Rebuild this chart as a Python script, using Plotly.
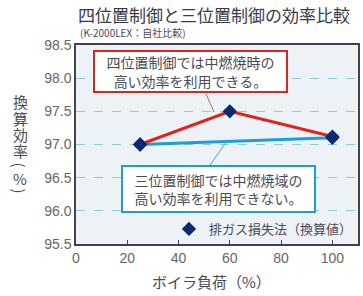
import plotly.graph_objects as go

# data
load_pct = [25, 60, 100]
eff_four = [97.0, 97.5, 97.12]
eff_three_x = [25, 100]
eff_three = [97.0, 97.1]
legend_name = "排ガス損失法（換算値）"
x_ticks = [0, 20, 40, 60, 80, 100]
y_ticks = [95.5, 96.0, 96.5, 97.0, 97.5, 98.0, 98.5]

W, H = 363, 296
L, R, T, B = 76, 3, 45, 52
PW, PH = W - L - R, H - T - B

def px(x):
    return (x - L) / PW

def py(y):
    return (H - B - y) / PH

JP = "Noto Sans CJK JP"
NUM = "Liberation Sans"
TXT = "#4a4a58"

fig = go.Figure()
fig.add_trace(go.Scatter(x=eff_three_x, y=eff_three, mode="lines",
                         line=dict(color="#1a9fd6", width=3), showlegend=False))
fig.add_trace(go.Scatter(x=load_pct, y=eff_four, mode="lines",
                         line=dict(color="#e3211b", width=3), showlegend=False))
fig.add_trace(go.Scatter(x=load_pct, y=eff_four, mode="markers",
                         marker=dict(symbol="diamond", size=11, color="#0b2a72"),
                         name=legend_name, showlegend=True))
fig.add_trace(go.Scatter(x=eff_three_x, y=eff_three, mode="markers",
                         marker=dict(symbol="diamond", size=11, color="#0b2a72"),
                         showlegend=False))

ann = []
ann.append(dict(text="四位置制御と三位置制御の効率比較", xref="paper", yref="paper",
                x=px(76), y=py(14), xanchor="left", yanchor="middle", showarrow=False,
                font=dict(family=JP, size=17, color="#3a3a48")))
ann.append(dict(text="(K-2000LEX：自社比較)", xref="paper", yref="paper",
                x=px(78), y=py(33), xanchor="left", yanchor="middle", showarrow=False,
                font=dict(family=JP, size=10, color=TXT)))
chars = [("換", 101, 0), ("算", 118, 0), ("効", 134, 0), ("率", 150, 0),
         ("(", 165, 90), ("%", 178, 0), (")", 191, 90)]
for c, yy, ang in chars:
    ann.append(dict(text=c, xref="paper", yref="paper", x=px(20), y=py(yy),
                    xanchor="center", yanchor="middle", showarrow=False, textangle=ang,
                    font=dict(family=JP, size=15, color=TXT)))
ann.append(dict(text="ボイラ負荷（%）", xref="paper", yref="paper", x=px(212), y=py(281),
                xanchor="center", yanchor="middle", showarrow=False,
                font=dict(family=JP, size=15, color=TXT)))
ann.append(dict(text="四位置制御では中燃焼時の<br>高い効率を利用できる。", xref="paper", yref="paper",
                x=px(191.5), y=py(71.5), xanchor="center", yanchor="middle", showarrow=False,
                width=189, height=37, align="center", bgcolor="white",
                bordercolor="#d8281e", borderwidth=2, borderpad=1,
                font=dict(family=JP, size=14, color=TXT)))
ann.append(dict(text="三位置制御では中燃焼域の<br>高い効率を利用できない。", xref="paper", yref="paper",
                x=px(219.5), y=py(189), xanchor="center", yanchor="middle", showarrow=False,
                width=189, height=42, align="center", bgcolor="white",
                bordercolor="#1f9fcc", borderwidth=2, borderpad=1,
                font=dict(family=JP, size=14, color=TXT)))

shapes = [
    dict(type="line", xref="paper", yref="paper", x0=px(207), y0=py(94), x1=px(215), y1=py(112),
         line=dict(color="#c06a5a", width=1)),
    dict(type="line", xref="paper", yref="paper", x0=px(228), y0=py(141), x1=px(211), y1=py(165),
         line=dict(color="#3aaad8", width=1)),
]

fig.update_layout(
    width=W, height=H,
    margin=dict(l=L, r=R, t=T, b=B),
    paper_bgcolor="white", plot_bgcolor="#edf2f6",
    font=dict(family=JP, color=TXT),
    annotations=ann, shapes=shapes,
    legend=dict(x=1, y=0, xanchor="right", yanchor="bottom", bgcolor="rgba(0,0,0,0)",
                font=dict(family=JP, size=13, color=TXT), itemwidth=30,
                tracegroupgap=0),
    xaxis=dict(range=[0, 110], tickvals=x_ticks, showgrid=False, zeroline=False,
               ticks="inside", ticklen=4, tickcolor="#444",
               showline=True, linecolor="#4a3a5a", linewidth=1.5, mirror=True,
               tickfont=dict(family=NUM, size=14, color="#666")),
    yaxis=dict(range=[95.5, 98.5], tickvals=y_ticks, ticktext=[f"{v:.1f}" for v in y_ticks],
               showgrid=True, gridcolor="#8ccbe0", griddash="dash", gridwidth=1, zeroline=False,
               showline=True, linecolor="#444", linewidth=1.5, mirror=True,
               tickfont=dict(family=NUM, size=14, color="#666")),
)

fig.write_html("out.html", config={"displayModeBar": False},
               post_script="document.body.style.margin='0';document.body.style.padding='0';")
